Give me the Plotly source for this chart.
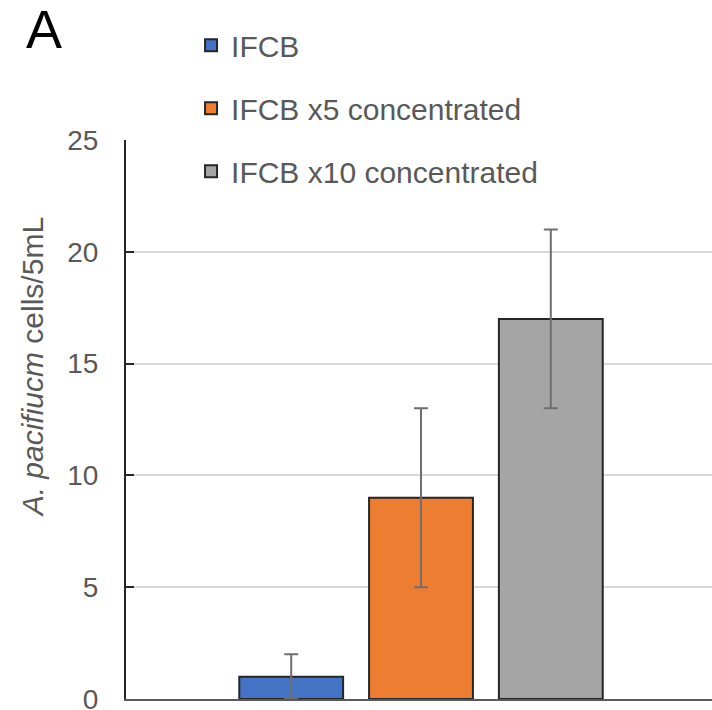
import plotly.graph_objects as go

# Data
category = ["A. pacificum"]
series_names = ["IFCB", "IFCB x5 concentrated", "IFCB x10 concentrated"]
means = [1, 9, 17]
errors = [1, 4, 4]
colors = ["#4472C4", "#ED7D31", "#A5A5A5"]
y_ticks = [0, 5, 10, 15, 20, 25]

FONT = "Liberation Sans, Arial, sans-serif"
TEXT_GRAY = "#595959"

fig = go.Figure()
for name, m, e, c in zip(series_names, means, errors, colors):
    fig.add_trace(go.Bar(
        x=category,
        y=[m],
        name=name,
        legendgroup=name,
        marker=dict(color=c, line=dict(color="#262626", width=2)),
        error_y=dict(type="data", array=[e], visible=True,
                     color="#6f6f6f", thickness=2, width=7),
    ))

fig.update_layout(
    width=712, height=710,
    margin=dict(l=126, r=0, t=140, b=11, autoexpand=False),
    paper_bgcolor="white", plot_bgcolor="white",
    barmode="group", bargap=0.34, bargroupgap=0.2,
    font=dict(family=FONT, color=TEXT_GRAY),
    showlegend=True,
    legend=dict(
        x=0.111, y=1.216, xanchor="left", yanchor="top",
        font=dict(size=30, color=TEXT_GRAY, family=FONT),
        traceorder="grouped", tracegroupgap=21,
        bgcolor="rgba(0,0,0,0)", itemwidth=30,
    ),
)

fig.update_xaxes(
    range=[-0.5, 0.4932], automargin=False,
    showticklabels=False, ticks="",
    showline=True, linecolor="#595959", linewidth=2,
    showgrid=False, zeroline=False,
)
fig.update_yaxes(
    range=[0, 25], tickvals=y_ticks, automargin=False,
    ticks="inside", ticklen=8, tickwidth=2, tickcolor="#262626",
    tickfont=dict(size=28, color=TEXT_GRAY, family=FONT),
    ticklabelstandoff=20, ticklabeloverflow="allow",
    showline=True, linecolor="#262626", linewidth=2,
    showgrid=True, gridcolor="#d9d9d9", gridwidth=1.5,
    zeroline=False,
)

# Axis title and panel letter
fig.add_annotation(
    text="<i>A. pacifiucm</i> cells/5mL",
    xref="paper", yref="paper", x=-0.158, y=0.594,
    xanchor="center", yanchor="middle", textangle=-90, showarrow=False,
    font=dict(size=30, color=TEXT_GRAY, family=FONT),
)
fig.add_annotation(
    text="A",
    xref="paper", yref="paper", x=-0.140, y=1.199,
    xanchor="center", yanchor="middle", showarrow=False,
    font=dict(size=54, color="black", family=FONT),
)

fig.write_html("out.html")
